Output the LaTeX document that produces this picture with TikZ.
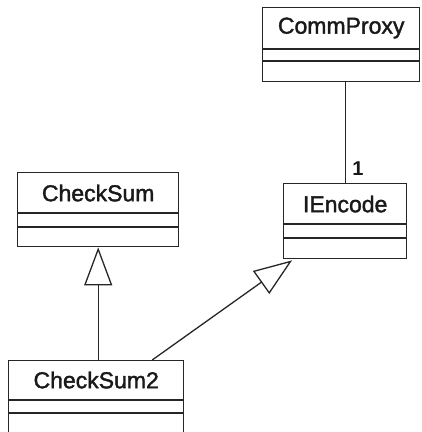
\documentclass[tikz,border=0pt]{standalone}
\usepackage{fontspec}
\setmainfont{Liberation Sans}
\newfontfamily\umlfont[FakeBold=1.6]{Liberation Sans}
\usetikzlibrary{arrows.meta}

\begin{document}
\begin{tikzpicture}[x=1pt, y=-1pt,
  cls/.style={draw=black!85, line width=1.4pt, fill=white, inner sep=0pt, anchor=north west},
  sep/.style={draw=black!85, line width=1.4pt},
  title/.style={font=\umlfont\fontsize{23}{27}\selectfont, text=black!90, inner sep=0pt},
  mult/.style={font=\fontsize{20}{24}\selectfont\bfseries, text=black!90, inner sep=0pt},
  link/.style={draw=black!85, line width=1.3pt},
  gen/.style={link, -{Triangle[open, length=38pt, width=28pt, line width=1.3pt]}}
]
\useasboundingbox (0,0) rectangle (422,432);
\clip (0,0) rectangle (422,432);

% class boxes
\node[cls, minimum width=157pt, minimum height=74pt] (cp) at (262,7) {};
\node[cls, minimum width=123pt, minimum height=75pt] (ie) at (283,183) {};
\node[cls, minimum width=161pt, minimum height=74pt] (cs) at (17,172) {};
\node[cls, minimum width=175pt, minimum height=84pt] (cs2) at (8,360) {};

% compartment separators
\draw[sep] ([yshift=-42pt]cp.north west) -- ([yshift=-42pt]cp.north east);
\draw[sep] ([yshift=-54pt]cp.north west) -- ([yshift=-54pt]cp.north east);
\draw[sep] ([yshift=-41pt]ie.north west) -- ([yshift=-41pt]ie.north east);
\draw[sep] ([yshift=-55pt]ie.north west) -- ([yshift=-55pt]ie.north east);
\draw[sep] ([yshift=-41pt]cs.north west) -- ([yshift=-41pt]cs.north east);
\draw[sep] ([yshift=-55pt]cs.north west) -- ([yshift=-55pt]cs.north east);
\draw[sep] ([yshift=-40pt]cs2.north west) -- ([yshift=-40pt]cs2.north east);
\draw[sep] ([yshift=-53pt]cs2.north west) -- ([yshift=-53pt]cs2.north east);

% class names
\node[title] (cpt) at ([yshift=-21pt]cp.north) {CommProxy};
\node[title] (iet) at ([yshift=-21pt]ie.north) {IEncode};
\node[title] (cst) at ([yshift=-21pt]cs.north) {CheckSum};
\node[title] (cs2t) at ([yshift=-20pt]cs2.north) {CheckSum2};

% association with multiplicity
\draw[link] (ie.north) -- (ie.north |- cp.south);
\node[mult] (m1) at (358,169) {1};

% generalizations
\draw[gen] (cs2.north -| cs.south) -- (cs.south);
\draw[gen] ([xshift=56pt]cs2.north) -- ([xshift=9pt,yshift=-1pt]ie.south west);
\end{tikzpicture}
\end{document}
